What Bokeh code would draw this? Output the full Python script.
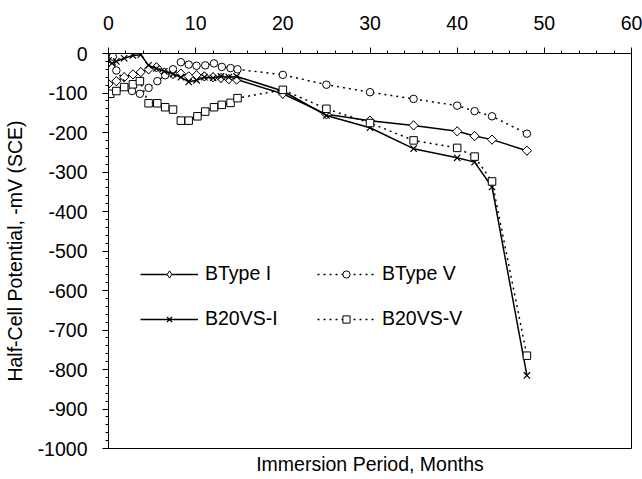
import numpy as np
from bokeh.plotting import figure
from bokeh.models import Range1d, LinearAxis, FixedTicker, Legend, LegendItem
from bokeh.embed import file_html
from bokeh.resources import INLINE

# ---------------- data ----------------
btype1_x = [0, 0.9, 1.8, 2.8, 3.7, 4.6, 5.5, 6.4, 7.4, 8.3, 9.2, 10.1, 11.0, 12.0, 12.9, 13.8, 14.7, 20, 25, 30, 35, 40, 42, 44, 48]
btype1_y = [-77, -70, -60, -53, -47, -40, -35, -48, -52, -51, -58, -55, -58, -60, -62, -65, -66, -102, -154, -170, -182, -197, -209, -218, -246]

btype5_x = [0, 0.5, 0.9, 2.7, 3.6, 4.6, 5.6, 6.5, 7.4, 8.3, 9.2, 10.1, 11.1, 12.1, 13.0, 14.0, 14.8, 20, 25, 30, 35, 40, 42, 44, 48]
btype5_y = [-8, -8, -43, -95, -102, -87, -70, -55, -40, -22, -28, -31, -30, -25, -34, -37, -40, -54, -79, -98, -115, -132, -146, -159, -203]

b20i_x = [0, 0.4, 0.9, 1.8, 2.8, 3.7, 4.6, 5.5, 6.4, 7.4, 8.3, 9.2, 10.1, 11.0, 12.0, 12.9, 13.8, 14.7, 20, 25, 30, 35, 40, 42, 44, 48]
b20i_y = [-18, -25, -20, -12, -5, -3, -30, -38, -45, -52, -60, -72, -68, -60, -62, -58, -60, -58, -95, -157, -188, -241, -264, -275, -338, -815]

b20v_x = [0.2, 0.9, 1.8, 2.8, 3.6, 4.6, 5.6, 6.5, 7.4, 8.3, 9.2, 10.2, 11.1, 12.1, 13.0, 14.0, 14.8, 20, 25, 30, 35, 40, 42, 44, 48]
b20v_y = [-102, -95, -85, -78, -70, -126, -126, -136, -142, -170, -170, -159, -147, -136, -130, -125, -113, -92, -140, -176, -220, -239, -261, -324, -765]

series_names = ["BType I", "BType V", "B20VS-I", "B20VS-V"]

x_ticks = [0, 10, 20, 30, 40, 50, 60]
x_minor = [2, 4, 6, 8, 12, 14, 16, 18, 22, 24, 26, 28, 32, 34, 36, 38, 42, 44, 46, 48, 52, 54, 56, 58]
y_ticks = [0, -100, -200, -300, -400, -500, -600, -700, -800, -900, -1000]
y_tick_labels = ["0", "-100", "-200", "-300", "-400", "-500", "-600", "-700", "-800", "-900", "-1000"]

FONT = "Liberation Sans"
FS = "19.5px"

p = figure(width=642, height=479, x_range=Range1d(0, 60), y_range=Range1d(-1000, 0),
           output_backend="svg", toolbar_location=None,
           x_axis_location=None, y_axis_location=None,
           min_border_left=103, min_border_right=11, min_border_top=53, min_border_bottom=31)
p.grid.visible = False
p.outline_line_color = "black"
p.outline_line_width = 1
p.background_fill_color = "white"
p.border_fill_color = "white"

# top x axis
xa = LinearAxis(ticker=FixedTicker(ticks=x_ticks, minor_ticks=x_minor))
xa.major_tick_out = 6
xa.major_tick_in = 0
xa.minor_tick_out = 3
xa.minor_tick_in = 0
xa.major_label_standoff = 18
xa.major_label_text_font = FONT
xa.major_label_text_font_size = FS
xa.major_label_text_color = "black"
xa.axis_line_color = "black"
xa.major_tick_line_color = "black"
xa.minor_tick_line_color = "black"
p.add_layout(xa, "above")

# bottom axis: only carries the axis title
xb = LinearAxis(ticker=FixedTicker(ticks=[]))
xb.axis_line_color = None
xb.major_tick_out = 0
xb.major_tick_in = 0
xb.minor_tick_out = 0
xb.minor_tick_in = 0
xb.major_label_standoff = 0
xb.axis_label = "Immersion Period, Months"
xb.axis_label_standoff = 4
xb.axis_label_text_font = FONT
xb.axis_label_text_font_size = FS
xb.axis_label_text_font_style = "normal"
xb.axis_label_text_color = "black"
p.add_layout(xb, "below")

# left y axis
ya = LinearAxis(ticker=FixedTicker(ticks=y_ticks, minor_ticks=[v - 20 * k for v in y_ticks[:-1] for k in range(1, 5)]))
ya.major_label_overrides = {t: s for t, s in zip(y_ticks, y_tick_labels)}
ya.major_tick_out = 6
ya.major_tick_in = 0
ya.minor_tick_out = 3
ya.minor_tick_in = 0
ya.major_label_standoff = 15
ya.major_label_text_font = FONT
ya.major_label_text_font_size = FS
ya.major_label_text_color = "black"
ya.axis_label = "Half-Cell Potential, -mV (SCE)"
ya.axis_label_text_font = FONT
ya.axis_label_text_font_size = FS
ya.axis_label_text_font_style = "normal"
ya.axis_label_text_color = "black"
ya.axis_label_standoff = 9
p.add_layout(ya, "left")

# BType I (legend diamond drawn underneath the rotated squares)
l1 = p.line(btype1_x, btype1_y, line_color="black", line_width=1.5)
d1 = p.scatter(btype1_x, btype1_y, marker="diamond", size=9,
               fill_color="white", line_color="black", line_width=1)
m1 = p.scatter(btype1_x, btype1_y, marker="square", angle=np.pi / 4, size=6.5,
               fill_color="white", line_color="black", line_width=1)
# BType V
l2 = p.line(btype5_x, btype5_y, line_color="black", line_width=1.5, line_dash="2 4")
m2 = p.scatter(btype5_x, btype5_y, marker="circle", size=7.5,
               fill_color="white", line_color="black", line_width=1)
# B20VS-I
l3 = p.line(b20i_x, b20i_y, line_color="black", line_width=1.5)
m3 = p.scatter(b20i_x, b20i_y, marker="x", size=9, line_color="black", line_width=1.2)
# B20VS-V
l4 = p.line(b20v_x, b20v_y, line_color="black", line_width=1.5, line_dash="2 4")
m4 = p.scatter(b20v_x, b20v_y, marker="square", size=7.5,
               fill_color="white", line_color="black", line_width=1)

# column-major fill: col 1 = BType I, B20VS-I ; col 2 = BType V, B20VS-V
legend = Legend(items=[
    LegendItem(label=series_names[0], renderers=[l1, d1]),
    LegendItem(label=series_names[2], renderers=[l3, m3]),
    LegendItem(label=series_names[1], renderers=[l2, m2]),
    LegendItem(label=series_names[3], renderers=[l4, m4]),
], ncols=2, location=(32, 118))
legend.border_line_color = None
legend.background_fill_alpha = 0
legend.padding = 0
legend.margin = 0
legend.spacing = 22
legend.glyph_width = 58
legend.glyph_height = 18
legend.label_height = 18
legend.label_width = 90
legend.label_standoff = 7
legend.label_text_font = FONT
legend.label_text_font_size = FS
legend.label_text_color = "black"
p.add_layout(legend, "center")

open("out.html", "w").write(file_html(p, INLINE))
